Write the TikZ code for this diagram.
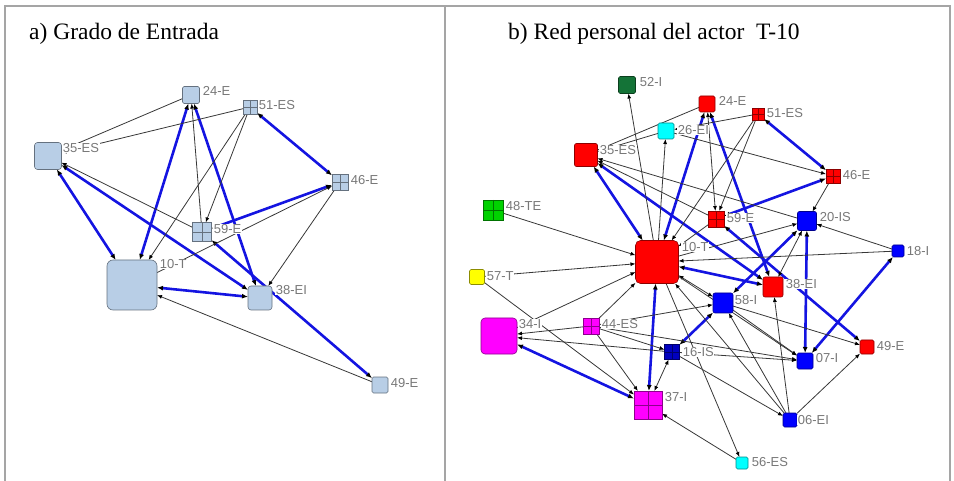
\documentclass[tikz,border=0pt]{standalone}
\usepackage{fontspec}
\setmainfont{Liberation Serif}
\newfontfamily\lblfont{Liberation Sans}
\usetikzlibrary{arrows.meta}
\definecolor{frm}{RGB}{165,165,165}
\definecolor{eblue}{RGB}{20,20,225}
\definecolor{egray}{RGB}{55,55,55}
\definecolor{ltxt}{RGB}{120,120,120}
\definecolor{steel}{RGB}{184,206,230}
\definecolor{nred}{RGB}{255,0,0}
\definecolor{nblue}{RGB}{0,0,255}
\definecolor{ndblue}{RGB}{0,0,190}
\definecolor{ncyan}{RGB}{0,255,255}
\definecolor{nmag}{RGB}{255,0,255}
\definecolor{ngreen}{RGB}{0,210,0}
\definecolor{ndgreen}{RGB}{20,115,55}
\definecolor{nyel}{RGB}{255,255,0}
\pgfdeclarelayer{edges}
\pgfsetlayers{edges,main}
\tikzset{
  hb/.tip={Latex[length=6pt,width=5pt,color=black]},
  ht/.tip={Latex[length=5pt,width=4pt,color=black]},
  blu/.style={draw=eblue,line width=2.6pt,arrows=hb-hb},
  thn/.style={draw=egray,line width=0.8pt,arrows=-ht},
  thnb/.style={draw=egray,line width=0.8pt,arrows=ht-ht},
  nd/.style={draw=#1!55!black,fill=#1,line width=0.6pt,rounded corners=1.5pt,inner sep=0pt,outer sep=0pt},
  gr/.style={path picture={\draw[line width=0.6pt,#1!55!black]
      (path picture bounding box.north) -- (path picture bounding box.south)
      (path picture bounding box.west) -- (path picture bounding box.east);}},
  lbl/.style={anchor=west,font=\lblfont\fontsize{13}{13}\selectfont,text=ltxt,fill=white,inner sep=0.6pt},
  ttl/.style={anchor=base west,font=\fontsize{23.5}{23.5}\selectfont,inner sep=0pt},
  frame/.style={draw=frm,line width=1.4pt},
}
\begin{document}
\begin{tikzpicture}[x=1pt,y=-1pt]
\useasboundingbox (0,0) rectangle (954,481);

% outer frame and divider
\coordinate (fTL) at (5,6);
\coordinate (fTR) at (950,6);
\coordinate (fBL) at (5,481);
\coordinate (fBR) at (950,481);
\coordinate (fMT) at (445,6);
\coordinate (fMB) at (445,481);
\draw[frame] (fBL) -- (fTL) -- (fTR) -- (fBR);
\draw[frame] (fMT) -- (fMB);

% titles
\node[ttl] (ta) at (29,40) {a) Grado de Entrada};
\node[ttl] (tb) at (508,40) {b) Red personal del actor\ \ T-10};

% ---------- panel a: in-degree network ----------
\node[nd=steel,minimum size=17pt] (L24) at (191,95) {};
\node[nd=steel,gr=steel,rounded corners=0pt,minimum size=14pt] (L51) at (250,107) {};
\node[nd=steel,rounded corners=3pt,minimum size=27pt] (L35) at (48,156) {};
\node[nd=steel,gr=steel,rounded corners=0pt,minimum size=16pt] (L46) at (340,182) {};
\node[nd=steel,gr=steel,rounded corners=0pt,minimum size=19pt] (L59) at (202,232) {};
\node[nd=steel,rounded corners=6pt,minimum size=50pt] (L10) at (132,285) {};
\node[nd=steel,rounded corners=3pt,minimum size=24pt] (L38) at (260,298) {};
\node[nd=steel,minimum size=16pt] (L49) at (380,385) {};

\node[lbl] (L24t) at (202,91) {24-E};
\node[lbl] (L51t) at (258,105) {51-ES};
\node[lbl] (L35t) at (62,148) {35-ES};
\node[lbl] (L46t) at (350,180) {46-E};
\node[lbl] (L59t) at (213,229) {59-E};
\node[lbl] (L10t) at (159,264) {10-T};
\node[lbl] (L38t) at (275,290) {38-EI};
\node[lbl] (L49t) at (390,383) {49-E};

\begin{pgfonlayer}{edges}
  \draw[blu] (L35) -- (L10);
  \draw[blu] (L35) -- (L38);
  \draw[blu] (L24) -- (L10);
  \draw[blu] (L24) -- (L38);
  \draw[blu] (L51) -- (L46);
  \draw[blu] (L59) -- (L46);
  \draw[blu] (L59) -- (L49);
  \draw[blu] (L10) -- (L38);
  \draw[thn] (L24) -- (L35);
  \draw[thn] (L51) -- (L35);
  \draw[thn] (L59) -- (L35);
  \draw[thn] (L59) -- (L24);
  \draw[thn] (L51) -- (L59);
  \draw[thn] (L51) -- (L10);
  \draw[thn] (L46) -- (L38);
  \draw[thn] (L10) -- (L46);
  \draw[thn] (L49) -- (L10);
\end{pgfonlayer}

% ---------- panel b: personal network of T-10 ----------
\node[nd=ndgreen,minimum size=17pt] (R52) at (627,85) {};
\node[nd=nred,minimum size=16pt] (R24) at (707,104) {};
\node[nd=nred,gr=nred,rounded corners=0pt,minimum size=12pt] (R51) at (758,114) {};
\node[nd=ncyan,minimum size=16pt] (R26) at (666,131) {};
\node[nd=nred,rounded corners=2pt,minimum size=23pt] (R35) at (586,155) {};
\node[nd=nred,gr=nred,rounded corners=0pt,minimum size=14pt] (R46) at (833,176) {};
\node[nd=ngreen,gr=ngreen,rounded corners=0pt,minimum size=20pt] (R48) at (493,210) {};
\node[nd=nred,gr=nred,rounded corners=0pt,minimum size=16pt] (R59) at (716,219) {};
\node[nd=nblue,rounded corners=2pt,minimum size=19pt] (R20) at (807,221) {};
\node[nd=nblue,minimum size=12pt] (R18) at (898,251) {};
\node[nd=nred,rounded corners=5pt,minimum size=43pt] (R10) at (657,262) {};
\node[nd=nyel,minimum size=15pt] (R57) at (477,277) {};
\node[nd=nred,rounded corners=2pt,minimum size=20pt] (R38) at (773,287) {};
\node[nd=nblue,rounded corners=2pt,minimum size=20pt] (R58) at (723,303) {};
\node[nd=nmag,rounded corners=4pt,minimum size=36pt] (R34) at (499,336) {};
\node[nd=nmag,gr=nmag,rounded corners=0pt,minimum size=16pt] (R44) at (591,326) {};
\node[nd=nred,minimum size=14pt] (R49) at (867,347) {};
\node[nd=ndblue,gr=ndblue,rounded corners=0pt,minimum size=15pt] (R16) at (672,352) {};
\node[nd=nblue,minimum size=16pt] (R07) at (805,361) {};
\node[nd=nmag,gr=nmag,rounded corners=0pt,minimum size=28pt] (R37) at (648,405) {};
\node[nd=nblue,minimum size=14pt] (R06) at (790,420) {};
\node[nd=ncyan,minimum size=12pt] (R56) at (742,463) {};

\node[lbl] (R52t) at (639,82) {52-I};
\node[lbl] (R24t) at (718,101) {24-E};
\node[lbl] (R51t) at (766,113) {51-ES};
\node[lbl] (R26t) at (677,130) {26-EI};
\node[lbl] (R35t) at (599,150) {35-ES};
\node[lbl] (R46t) at (842,175) {46-E};
\node[lbl] (R48t) at (505,206) {48-TE};
\node[lbl] (R59t) at (726,218) {59-E};
\node[lbl] (R20t) at (819,217) {20-IS};
\node[lbl] (R18t) at (906,251) {18-I};
\node[lbl] (R10t) at (681,247) {10-T};
\node[lbl] (R57t) at (486,276) {57-T};
\node[lbl] (R38t) at (785,284) {38-EI};
\node[lbl] (R58t) at (734,300) {58-I};
\node[lbl] (R34t) at (518,324) {34-I};
\node[lbl] (R44t) at (601,324) {44-ES};
\node[lbl] (R49t) at (876,346) {49-E};
\node[lbl] (R16t) at (682,352) {16-IS};
\node[lbl] (R07t) at (815,358) {07-I};
\node[lbl] (R37t) at (664,397) {37-I};
\node[lbl] (R06t) at (797,420) {06-EI};
\node[lbl] (R56t) at (751,462) {56-ES};

\begin{pgfonlayer}{edges}
  % reciprocal strong ties
  \draw[blu] (R35) -- (R10);
  \draw[blu] (R35) -- (R38);
  \draw[blu] (R24) -- (R10);
  \draw[blu] (R24) -- (R38);
  \draw[blu] (R51) -- (R46);
  \draw[blu] (R59) -- (R46);
  \draw[blu] (R59) -- (R49);
  \draw[blu] (R10) -- (R38);
  \draw[blu] (R20) -- (R58);
  \draw[blu] (R20) -- (R07);
  \draw[blu] (R18) -- (R07);
  \draw[blu] (R16) -- (R58);
  \draw[blu] (R10) -- (R37);
  \draw[blu] (R34) -- (R37);
  % directed ties
  \draw[thn] (R10) -- (R52);
  \draw[thn] (R10) -- (R26);
  \draw[thn] (R24) -- (R35);
  \draw[thn] (R26) -- (R35);
  \draw[thn] (R26) -- (R46);
  \draw[thn] (R20) -- (R35);
  \draw[thn] (R59) -- (R35);
  \draw[thn] (R46) -- (R20);
  \draw[thn] (R51) -- (R26);
  \draw[thn] (R51) -- (R10);
  \draw[thn] (R51) -- (R59);
  \draw[thnb] (R24) -- (R59);
  \draw[thn] (R59) -- (R10);
  \draw[thn] (R48) -- (R10);
  \draw[thn] (R57) -- (R10);
  \draw[thn] (R57) -- (R37);
  \draw[thn] (R34) -- (R10);
  \draw[thn] (R44) -- (R10);
  \draw[thn] (R44) -- (R34);
  \draw[thn] (R16) -- (R34);
  \draw[thn] (R44) -- (R37);
  \draw[thn] (R44) -- (R16);
  \draw[thn] (R44) -- (R07);
  \draw[thn] (R44) -- (R58);
  \draw[thnb] (R16) -- (R37);
  \draw[thn] (R16) -- (R06);
  \draw[thn] (R10) -- (R56);
  \draw[thn] (R56) -- (R37);
  \draw[thn] (R06) -- (R10);
  \draw[thn] (R06) -- (R58);
  \draw[thn] (R06) -- (R38);
  \draw[thn] (R06) -- (R49);
  \draw[thnb] (R10) -- (R58);
  \draw[thn] (R58) -- (R07);
  \draw[thn] (R58) -- (R49);
  \draw[thnb] (R38) -- (R20);
  \draw[thn] (R10) -- (R20);
  \draw[thn] (R18) -- (R20);
  \draw[thn] (R18) -- (R10);
  \draw[thn] (R16) -- (R07);
  \draw[thn] (R10) -- (R07);
\end{pgfonlayer}
\end{tikzpicture}
\end{document}
